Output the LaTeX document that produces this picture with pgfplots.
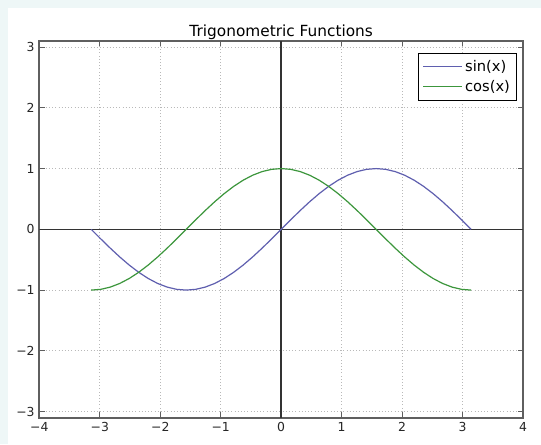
\documentclass[border=0pt]{standalone}
\usepackage{fontspec}
\setmainfont{DejaVu Sans}
\usepackage{pgfplots}
\usepackage{pgfplotstable}
\pgfplotsset{compat=1.18}
\definecolor{bgband}{RGB}{238,247,247}
\definecolor{sinc}{RGB}{95,95,175}
\definecolor{cosc}{RGB}{60,150,60}
\definecolor{framec}{RGB}{95,95,95}
\pgfplotstableread{
x sin cos
-3.14159 0.00000 -1.00000
-2.98451 -0.15643 -0.98769
-2.82743 -0.30902 -0.95106
-2.67035 -0.45399 -0.89101
-2.51327 -0.58779 -0.80902
-2.35619 -0.70711 -0.70711
-2.19911 -0.80902 -0.58779
-2.04204 -0.89101 -0.45399
-1.88496 -0.95106 -0.30902
-1.72788 -0.98769 -0.15643
-1.57080 -1.00000 0.00000
-1.41372 -0.98769 0.15643
-1.25664 -0.95106 0.30902
-1.09956 -0.89101 0.45399
-0.94248 -0.80902 0.58779
-0.78540 -0.70711 0.70711
-0.62832 -0.58779 0.80902
-0.47124 -0.45399 0.89101
-0.31416 -0.30902 0.95106
-0.15708 -0.15643 0.98769
0.00000 0.00000 1.00000
0.15708 0.15643 0.98769
0.31416 0.30902 0.95106
0.47124 0.45399 0.89101
0.62832 0.58779 0.80902
0.78540 0.70711 0.70711
0.94248 0.80902 0.58779
1.09956 0.89101 0.45399
1.25664 0.95106 0.30902
1.41372 0.98769 0.15643
1.57080 1.00000 0.00000
1.72788 0.98769 -0.15643
1.88496 0.95106 -0.30902
2.04204 0.89101 -0.45399
2.19911 0.80902 -0.58779
2.35619 0.70711 -0.70711
2.51327 0.58779 -0.80902
2.67035 0.45399 -0.89101
2.82743 0.30902 -0.95106
2.98451 0.15643 -0.98769
3.14159 0.00000 -1.00000
}\trigdata
\begin{document}
\begin{tikzpicture}
\fill[bgband] (0,0) rectangle (405.75pt,333pt);
\fill[white] (6pt,0) rectangle (405.75pt,327pt);
\begin{axis}[
  at={(29.5pt,19.75pt)}, anchor=south west,
  scale only axis,
  width=362.75pt, height=282.5pt,
  xmin=-4, xmax=4, ymin=-3.1, ymax=3.1,
  xtick={-4,-3,...,4},
  xticklabels={−4,−3,−2,−1,0,1,2,3,4},
  ytick={-3,-2,...,3},
  yticklabels={−3,−2,−1,0,1,2,3},
  tick align=inside,
  major tick length=4pt,
  tick style={framec, line width=0.6pt},
  xtick pos=both, ytick pos=both,
  axis line style={framec, line width=1.5pt},
  grid=major,
  major grid style={gray!55, dotted, line width=0.6pt},
  tick label style={font=\fontsize{9.3}{11}\selectfont, black!85},
  title={Trigonometric Functions},
  every axis title/.style={at={(0.5,1)}, anchor=base, yshift=3.6pt, font=\fontsize{11.5}{13}\selectfont},
  legend style={at={(1,1)}, anchor=north east, xshift=-4.5pt, yshift=-8.75pt,
    draw=black, line width=0.6pt, fill=white,
    font=\fontsize{11}{13}\selectfont, inner xsep=3pt, inner ysep=3.3pt,
    row sep=1pt},
  legend cell align=left,
  legend image code/.code={\path (-5.8pt,0pt) -- (23pt,0pt); \draw[#1, line width=0.9pt] (0pt,0pt) -- (17pt,0pt);},
]
\draw[black!80, line width=1.1pt] (axis cs:-4,0) -- (axis cs:4,0);
\draw[black!80, line width=1.1pt] (axis cs:0,-3.1) -- (axis cs:0,3.1);
\addplot[sinc, line width=0.9pt] table[x=x, y=sin] {\trigdata};
\addlegendentry{sin(x)}
\addplot[cosc, line width=0.9pt] table[x=x, y=cos] {\trigdata};
\addlegendentry{cos(x)}
\end{axis}
\end{tikzpicture}
\end{document}
